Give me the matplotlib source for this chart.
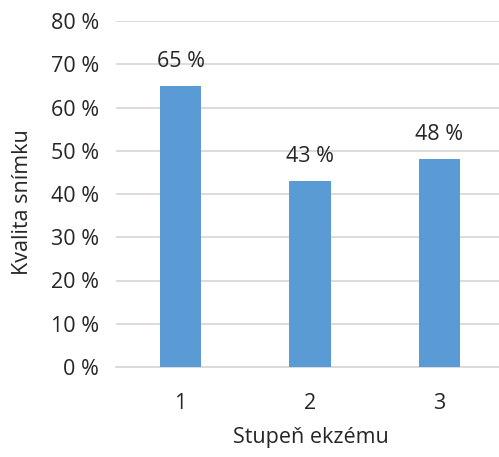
import matplotlib
matplotlib.use("Agg")
import matplotlib.pyplot as plt
from matplotlib.ticker import FuncFormatter

stages = ["1", "2", "3"]
quality = [65, 43, 48]
y_ticks = [0, 10, 20, 30, 40, 50, 60, 70, 80]

plt.rcParams['font.family'] = ['Open Sans', 'DejaVu Sans']
text_color = "#262626"
fs = 15.5

fig = plt.figure(figsize=(4.99, 4.57), dpi=100)
ax = fig.add_axes([116 / 499, 90 / 457, 388 / 499, 346 / 457])

x = range(len(stages))
bars = ax.bar(x, quality, width=0.32, color="#5B9BD5", zorder=3)
for rect, val in zip(bars, quality):
    ax.text(rect.get_x() + rect.get_width() / 2, val + 3.3, f"{val} %",
            ha="center", va="bottom", fontsize=fs, color=text_color)

ax.set_xlim(-0.5, 2.5)
ax.set_ylim(0, 80)
ax.set_yticks(y_ticks)
ax.yaxis.set_major_formatter(FuncFormatter(lambda v, _: f"{int(v)} %"))
ax.set_xticks(list(x))
ax.set_xticklabels(stages)
ax.grid(axis="y", color="#D9D9D9", linewidth=1.3, zorder=0)
for side in ["top", "right", "left"]:
    ax.spines[side].set_visible(False)
ax.spines["bottom"].set_color("#D9D9D9")
ax.spines["bottom"].set_linewidth(1.3)
ax.tick_params(length=0, labelsize=fs, labelcolor=text_color)
ax.tick_params(axis="x", pad=19)
ax.tick_params(axis="y", pad=12)

ax.set_ylabel("Kvalita snímku", fontsize=fs, color=text_color, va="center")
ax.yaxis.set_label_coords((23 - 116) / 388, (367 - 202) / 346)
ax.set_xlabel("Stupeň ekzému", fontsize=fs, color=text_color, va="center")
ax.xaxis.set_label_coords((311 - 116) / 388, -(438 - 367) / 346)

fig.savefig("out.png", dpi=100)
